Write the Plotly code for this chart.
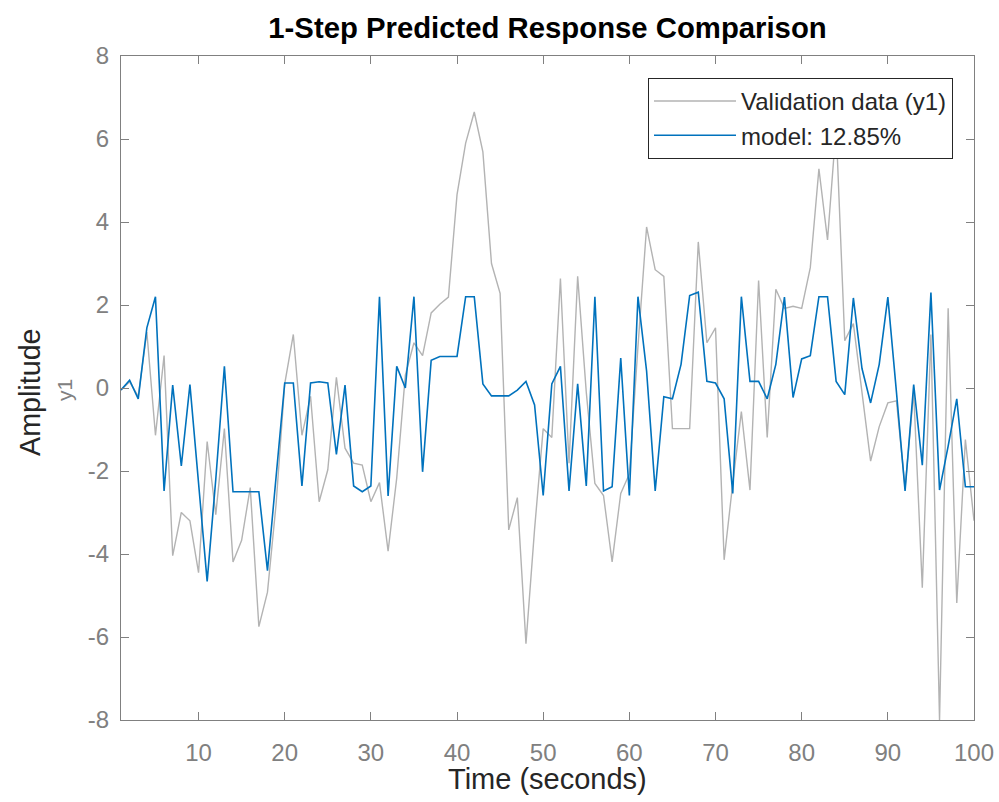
import plotly.graph_objects as go

time_s = list(range(1, 101))

validation_y1 = [
    -0.05, 0.15, -0.2, 1.35, -1.14, 0.78, -4.04, -3.0, -3.2, -4.45,
    -1.29, -3.05, -0.98, -4.19, -3.67, -2.4, -5.75, -4.92, -2.8, 0.1,
    1.29, -1.14, -0.2, -2.74, -1.97, 0.26, -1.45, -1.81, -1.86, -2.74,
    -2.28, -3.93, -2.17, 0.31, 1.09, 0.78, 1.81, 2.02, 2.19, 4.66,
    5.9, 6.65, 5.69, 3.0, 2.28, -3.42, -2.64, -6.16, -3.4, -0.98,
    -1.19, 2.64, -1.81, 2.69, -0.1, -2.3, -2.59, -4.19, -2.54, -2.07,
    1.0, 3.88, 2.85, 2.69, -0.98, -0.98, -0.98, 3.52, 1.09, 1.45,
    -4.14, -2.3, -0.57, -2.46, 2.59, -1.19, 2.38, 1.92, 1.97, 1.92,
    2.9, 5.28, 3.57, 6.3, 1.14, 1.55, -0.1, -1.76, -0.93, -0.36,
    -0.31, -2.4, -0.1, -4.81, 1.29, -8.0, 1.92, -5.18, -1.24, -3.2,
]

model_y1 = [
    -0.05, 0.19, -0.26, 1.45, 2.2, -2.48, 0.07, -1.88, 0.08, -2.3,
    -4.66, -2.2, 0.52, -2.5, -2.5, -2.5, -2.5, -4.4, -2.1, 0.12,
    0.12, -2.36, 0.12, 0.15, 0.12, -1.6, 0.07, -2.36, -2.5, -2.36,
    2.2, -2.6, 0.52, 0.0, 2.2, -2.02, 0.67, 0.76, 0.76, 0.76,
    2.2, 2.2, 0.1, -0.19, -0.19, -0.19, -0.05, 0.16, -0.41, -2.59,
    0.1, 0.52, -2.48, 0.1, -2.36, 2.2, -2.48, -2.38, 0.72, -2.59,
    2.2, 0.41, -2.48, -0.21, -0.26, 0.57, 2.23, 2.31, 0.16, 0.12,
    -0.26, -2.54, 2.2, 0.16, 0.16, -0.26, 0.57, 2.19, -0.23, 0.7,
    0.78, 2.2, 2.2, 0.16, -0.16, 2.17, 0.47, -0.36, 0.57, 2.19,
    -0.1, -2.48, 0.08, -1.86, 2.3, -2.46, -1.4, -0.26, -2.38, -2.38,
]

x_ticks = [10, 20, 30, 40, 50, 60, 70, 80, 90, 100]
y_ticks = [-8, -6, -4, -2, 0, 2, 4, 6, 8]

FONT = "Liberation Sans, Arial, sans-serif"
AXIS_GRAY = "#808080"
DARK = "#262626"

fig = go.Figure()
fig.add_trace(go.Scatter(
    x=time_s, y=validation_y1, mode="lines", name="Validation data (y1)",
    line=dict(color="#b3b3b3", width=1.4),
))
fig.add_trace(go.Scatter(
    x=time_s, y=model_y1, mode="lines", name="model: 12.85%",
    line=dict(color="#0072BD", width=1.6),
))

fig.update_layout(
    width=999, height=802,
    margin=dict(l=121, r=25, t=56, b=82, autoexpand=False),
    plot_bgcolor="white", paper_bgcolor="white",
    font=dict(family=FONT, color=DARK),
    title=dict(
        text="<b>1-Step Predicted Response Comparison</b>",
        x=0.5, xref="paper", xanchor="center",
        y=1 - 28 / 802, yref="container", yanchor="middle",
        font=dict(family=FONT, size=29.3, color="#000000"),
        automargin=False,
    ),
    showlegend=True,
    legend=dict(
        x=1 - 21 / 853, xanchor="right", y=0.967, yanchor="top",
        bgcolor="white", bordercolor=DARK, borderwidth=1,
        font=dict(family=FONT, size=24, color=DARK),
        itemwidth=82, tracegroupgap=0,
    ),
)

fig.update_xaxes(
    range=[1, 100], tickvals=x_ticks, ticktext=[str(v) for v in x_ticks],
    showgrid=False, zeroline=False, automargin=False,
    showline=True, linecolor=AXIS_GRAY, linewidth=1.3, mirror="ticks",
    ticks="inside", ticklen=8, tickcolor=AXIS_GRAY, tickwidth=1.3,
    ticklabelstandoff=11,
    tickfont=dict(family=FONT, size=24, color=AXIS_GRAY),
)
fig.update_yaxes(
    range=[-8, 8], tickvals=y_ticks, ticktext=[str(v) for v in y_ticks],
    showgrid=False, zeroline=False, automargin=False,
    showline=True, linecolor=AXIS_GRAY, linewidth=1.3, mirror="ticks",
    ticks="inside", ticklen=8, tickcolor=AXIS_GRAY, tickwidth=1.3,
    ticklabelstandoff=6,
    tickfont=dict(family=FONT, size=24, color=AXIS_GRAY),
)

fig.add_annotation(
    text="Time (seconds)", xref="paper", yref="paper",
    x=0.5, y=(720 - 779) / 664, xanchor="center", yanchor="middle",
    showarrow=False, font=dict(family=FONT, size=29, color=DARK),
)
fig.add_annotation(
    text="Amplitude", xref="paper", yref="paper",
    x=(30 - 121) / 853, y=(720 - 392) / 664, xanchor="center", yanchor="middle",
    textangle=-90, showarrow=False, font=dict(family=FONT, size=28.7, color=DARK),
)
fig.add_annotation(
    text="y1", xref="paper", yref="paper",
    x=(64 - 121) / 853, y=(720 - 390) / 664, xanchor="center", yanchor="middle",
    textangle=-90, showarrow=False, font=dict(family=FONT, size=21, color=AXIS_GRAY),
)

fig.write_html(
    "out.html",
    config={"displayModeBar": False},
    post_script="document.body.style.margin='0';document.body.style.padding='0';",
)
